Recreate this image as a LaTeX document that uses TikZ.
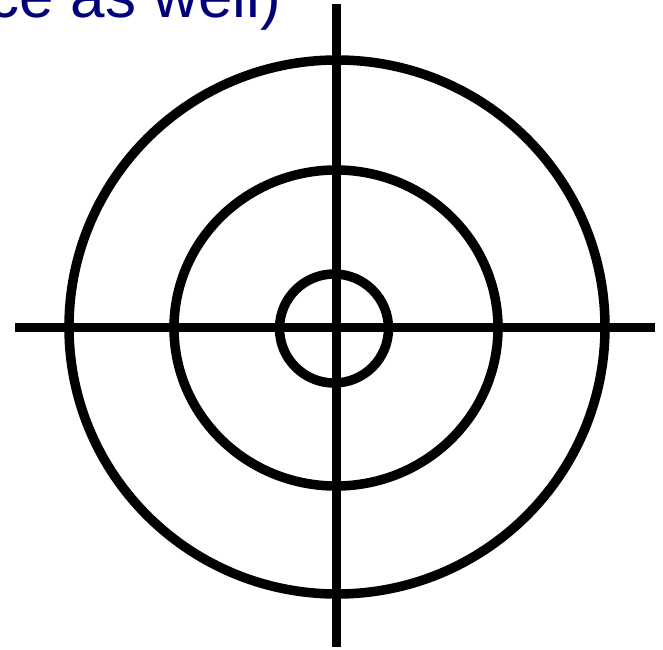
\documentclass[tikz,border=0pt]{standalone}
\usepackage{fontspec}
\setmainfont{Liberation Sans}
\definecolor{navytext}{RGB}{0,0,120}
\begin{document}
\begin{tikzpicture}[x=1pt,y=-1pt,
  ring/.style={line width=9.5pt,draw=black},
  hair/.style={line width=9.5pt,draw=black}]
\useasboundingbox (0,0) rectangle (663,649);
\begin{scope}
\clip (0,0) rectangle (663,649);
\node[anchor=base west,inner sep=0pt,text=navytext,font=\fontsize{62}{70}\selectfont] (caption) at (-12,17) {ce as well)};
\end{scope}
\draw[ring] (337,327) ellipse [x radius=268,y radius=267];
\draw[ring] (336,328) ellipse [x radius=162,y radius=158];
\draw[ring] (334,328.5) circle [radius=54.5];
\coordinate (hl) at (15,327.5);
\coordinate (hr) at (655,327.5);
\coordinate (vt) at (336.5,4);
\coordinate (vb) at (336.5,647);
\draw[hair] (hl) -- (hr);
\draw[hair] (vt) -- (vb);
\end{tikzpicture}
\end{document}
